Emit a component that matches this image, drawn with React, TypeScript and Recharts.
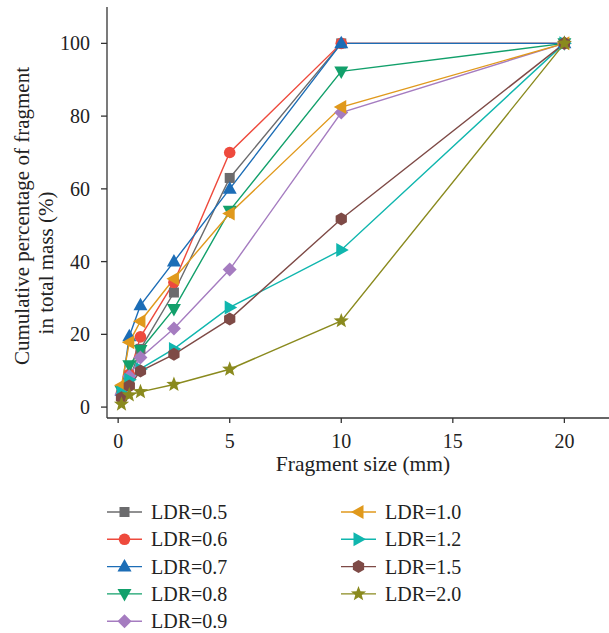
import React from 'react';
import { LineChart, Line, XAxis, YAxis } from 'recharts';

const fragmentSizes = [0.15, 0.5, 1, 2.5, 5, 10, 20];
const ldr05 = [3, 7.5, 16, 31.5, 63, 100, 100];
const ldr06 = [4, 9, 19.3, 34.3, 70, 100, 100];
const ldr07 = [4.5, 19.5, 28, 40, 60, 100, 100];
const ldr08 = [4.5, 11.5, 15.7, 27, 54, 92.3, 100];
const ldr09 = [3.5, 8.5, 13.6, 21.6, 37.8, 81, 100];
const ldr10 = [6, 17.8, 23.6, 35.3, 53.2, 82.5, 100];
const ldr12 = [4, 7.5, 10.5, 16, 27.4, 43.2, 100];
const ldr15 = [2.6, 5.8, 9.9, 14.5, 24.2, 51.7, 100];
const ldr20 = [0.8, 3.3, 4.2, 6.2, 10.4, 23.7, 100];

const xMajorTicks = [0, 5, 10, 15, 20];
const xMinorTicks = [2.5, 7.5, 12.5, 17.5];
const yMajorTicks = [0, 20, 40, 60, 80, 100];
const yMinorTicks = [10, 30, 50, 70, 90];

const seriesDefs = [
  { key: 'ldr05', name: 'LDR=0.5', values: ldr05, color: '#6b6b6d', shape: 'square' },
  { key: 'ldr06', name: 'LDR=0.6', values: ldr06, color: '#ee4a3d', shape: 'circle' },
  { key: 'ldr07', name: 'LDR=0.7', values: ldr07, color: '#1c6db6', shape: 'triUp' },
  { key: 'ldr08', name: 'LDR=0.8', values: ldr08, color: '#12a06b', shape: 'triDown' },
  { key: 'ldr09', name: 'LDR=0.9', values: ldr09, color: '#a57cc0', shape: 'diamond' },
  { key: 'ldr10', name: 'LDR=1.0', values: ldr10, color: '#e0991c', shape: 'triLeft' },
  { key: 'ldr12', name: 'LDR=1.2', values: ldr12, color: '#10b6ae', shape: 'triRight' },
  { key: 'ldr15', name: 'LDR=1.5', values: ldr15, color: '#7e4a46', shape: 'hexagon' },
  { key: 'ldr20', name: 'LDR=2.0', values: ldr20, color: '#8a8a1e', shape: 'star' },
];

const data = fragmentSizes.map((x, i) => {
  const row: Record<string, number> = { x };
  seriesDefs.forEach((s) => {
    row[s.key] = s.values[i];
  });
  return row;
});

const FONT = '"Liberation Serif", "DejaVu Serif", serif';
const AXIS = '#333';

function pts(arr: number[][]) {
  return arr.map((p) => `${p[0]},${p[1]}`).join(' ');
}

function Marker({ shape, cx, cy, color }: { shape: string; cx: number; cy: number; color: string }) {
  switch (shape) {
    case 'square':
      return <rect x={cx - 5} y={cy - 5} width={10} height={10} fill={color} />;
    case 'circle':
      return <circle cx={cx} cy={cy} r={5.8} fill={color} />;
    case 'triUp':
      return <polygon points={pts([[cx, cy - 7.5], [cx - 7, cy + 5], [cx + 7, cy + 5]])} fill={color} />;
    case 'triDown':
      return <polygon points={pts([[cx, cy + 7.5], [cx - 7, cy - 5], [cx + 7, cy - 5]])} fill={color} />;
    case 'triLeft':
      return <polygon points={pts([[cx - 7.5, cy], [cx + 5, cy - 7], [cx + 5, cy + 7]])} fill={color} />;
    case 'triRight':
      return <polygon points={pts([[cx + 7.5, cy], [cx - 5, cy - 7], [cx - 5, cy + 7]])} fill={color} />;
    case 'diamond':
      return <polygon points={pts([[cx, cy - 7], [cx + 7, cy], [cx, cy + 7], [cx - 7, cy]])} fill={color} />;
    case 'hexagon': {
      const p: number[][] = [];
      for (let i = 0; i < 6; i++) {
        const a = (Math.PI / 3) * i + Math.PI / 6;
        p.push([cx + 6.5 * Math.cos(a), cy + 6.5 * Math.sin(a)]);
      }
      return <polygon points={pts(p)} fill={color} />;
    }
    case 'star': {
      const p: number[][] = [];
      for (let i = 0; i < 10; i++) {
        const r = i % 2 === 0 ? 8 : 3.4;
        const a = -Math.PI / 2 + (Math.PI / 5) * i;
        p.push([cx + r * Math.cos(a), cy + r * Math.sin(a)]);
      }
      return <polygon points={pts(p)} fill={color} />;
    }
    default:
      return null;
  }
}

const makeDot = (shape: string, color: string) => (props: any) => {
  const { cx, cy, index } = props;
  if (cx == null || cy == null) return <g key={`d-${index}`} />;
  return (
    <g key={`d-${index}`}>
      <Marker shape={shape} cx={cx} cy={cy} color={color} />
    </g>
  );
};

const tickStyle = { fontFamily: FONT, fontSize: 20, fill: '#222' };

function YTitle() {
  return (
    <text fontFamily={FONT} fontSize={21} fill="#222" textAnchor="middle">
      <tspan transform="" x={0} y={0} />
      <tspan>
        <tspan />
      </tspan>
      <tspan x={0} y={0} />
    </text>
  );
}

function YTitleLines() {
  return (
    <g fontFamily={FONT} fontSize={21} fill="#222">
      <text transform="translate(29,216) rotate(-90)" textAnchor="middle">
        Cumulative percentage of fragment
      </text>
      <text transform="translate(53,263) rotate(-90)" textAnchor="middle">
        in total mass (%)
      </text>
    </g>
  );
}

function XTitle() {
  return (
    <text x={363} y={471} textAnchor="middle" fontFamily={FONT} fontSize={21.5} fill="#222">
      Fragment size (mm)
    </text>
  );
}

const legendCol1 = seriesDefs.slice(0, 5);
const legendCol2 = seriesDefs.slice(5);

function LegendBlock() {
  const rowY = (i: number) => 512 + i * 27.3;
  const renderItem = (s: typeof seriesDefs[number], i: number, x0: number) => (
    <g key={s.key}>
      <line x1={x0} x2={x0 + 35} y1={rowY(i)} y2={rowY(i)} stroke={s.color} strokeWidth={1.4} />
      <Marker shape={s.shape} cx={x0 + 17.5} cy={rowY(i)} color={s.color} />
      <text x={x0 + 44} y={rowY(i) + 7} fontFamily={FONT} fontSize={20} fill="#222">
        {s.name}
      </text>
    </g>
  );
  return (
    <svg width={609} height={633} style={{ position: 'absolute', left: 0, top: 0, pointerEvents: 'none' }}>
      {legendCol1.map((s, i) => renderItem(s, i, 107))}
      {legendCol2.map((s, i) => renderItem(s, i, 341))}
    </svg>
  );
}

export default function App() {
  return (
    <div style={{ position: 'absolute', left: 0, top: 0, width: 609, height: 633, background: '#fff' }}>
      <LineChart width={609} height={633} data={data} margin={{ top: 7, right: 0, left: 0, bottom: 155 }}>
        <XAxis
          xAxisId="main"
          type="number"
          dataKey="x"
          domain={[-0.5, 22]}
          ticks={xMajorTicks}
          tickSize={5}
          tickMargin={11}
          tick={tickStyle}
          stroke={AXIS}
          strokeWidth={1.3}
          height={60}
          allowDataOverflow
          label={{ content: () => <XTitle /> }}
        />
        <XAxis
          xAxisId="minor"
          type="number"
          dataKey="x"
          domain={[-0.5, 22]}
          ticks={xMinorTicks}
          tickSize={3}
          tick={false}
          axisLine={false}
          stroke={AXIS}
          strokeWidth={1.3}
          height={0}
          allowDataOverflow
        />
        <XAxis
          xAxisId="top"
          orientation="top"
          type="number"
          dataKey="x"
          domain={[-0.5, 22]}
          tick={false}
          tickLine={false}
          stroke={AXIS}
          strokeWidth={1.3}
          height={0}
          allowDataOverflow
        />
        <YAxis
          yAxisId="main"
          type="number"
          domain={[-3, 110]}
          ticks={yMajorTicks}
          tickSize={6}
          tickMargin={11}
          tick={tickStyle}
          stroke={AXIS}
          strokeWidth={1.3}
          width={107}
          allowDataOverflow
          label={{ content: () => <YTitleLines /> }}
        />
        <YAxis
          yAxisId="minor"
          type="number"
          domain={[-3, 110]}
          ticks={yMinorTicks}
          tickSize={3}
          tick={false}
          axisLine={false}
          stroke={AXIS}
          strokeWidth={1.3}
          width={0}
          allowDataOverflow
        />
        {seriesDefs.map((s) => (
          <Line
            key={s.key}
            xAxisId="main"
            yAxisId="main"
            type="linear"
            dataKey={s.key}
            name={s.name}
            stroke={s.color}
            strokeWidth={1.4}
            dot={makeDot(s.shape, s.color)}
            activeDot={false}
            isAnimationActive={false}
          />
        ))}
      </LineChart>
      <LegendBlock />
    </div>
  );
}
